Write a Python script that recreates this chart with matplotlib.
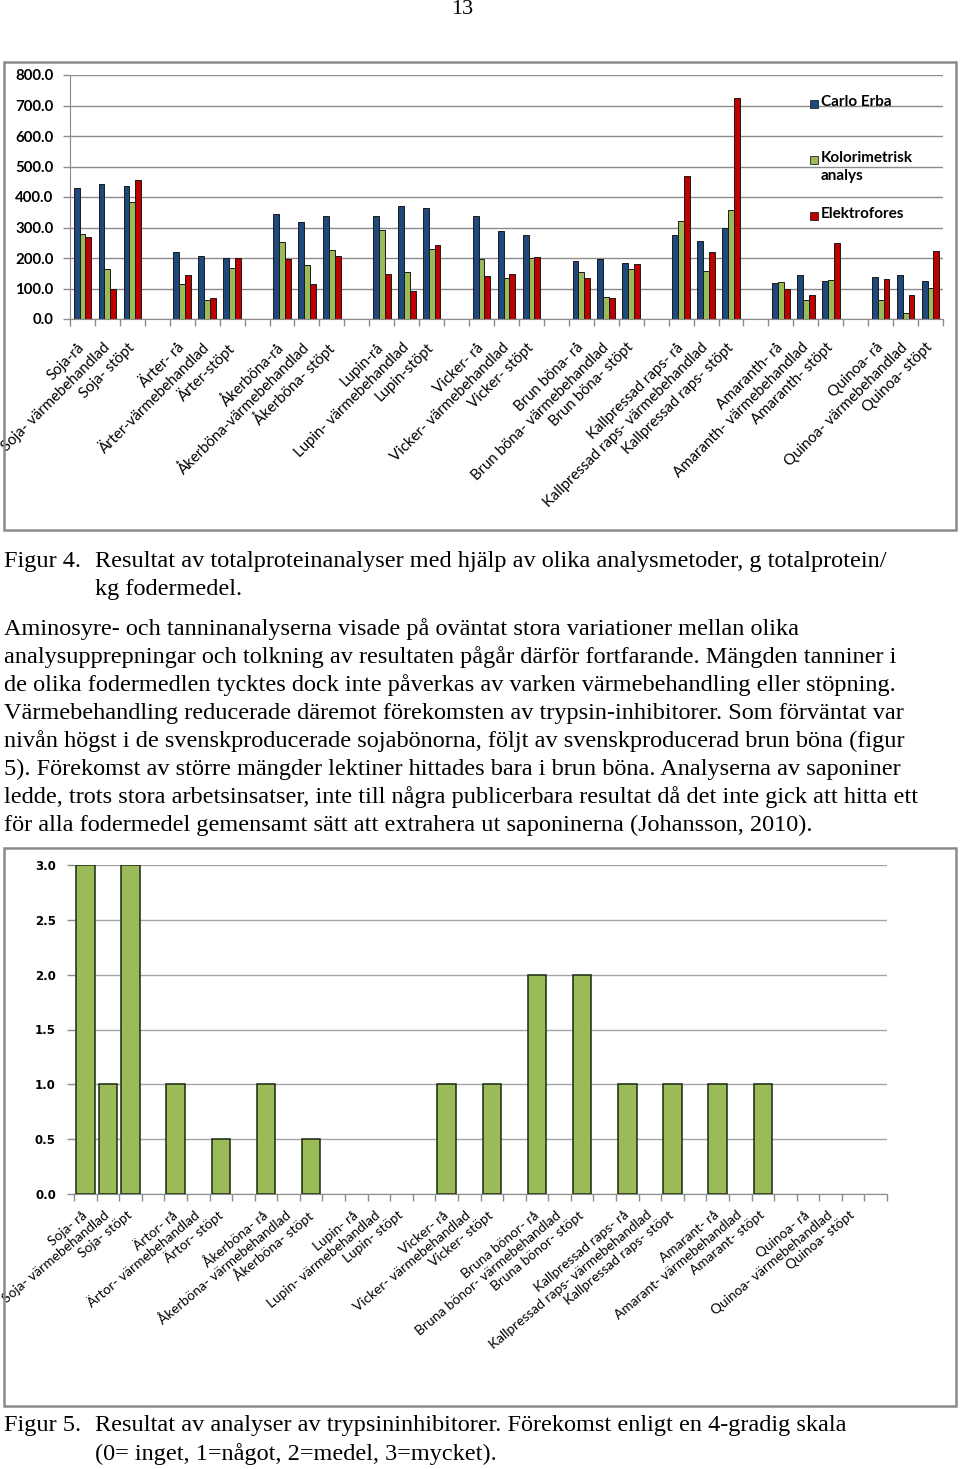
import numpy as np
import matplotlib.pyplot as plt
from matplotlib.patches import Rectangle

# page size in pixels
W, H = 960, 1469

# ---- Figur 4: total protein, g totalprotein / kg fodermedel ----
labels_fig4 = [
    "Soja-rå", "Soja- värmebehandlad", "Soja- stöpt",
    "Ärter- rå", "Ärter-värmebehandlad", "Ärter-stöpt",
    "Åkerböna-rå", "Åkerböna-värmebehandlad", "Åkerböna- stöpt",
    "Lupin-rå", "Lupin- värmebehandlad", "Lupin-stöpt",
    "Vicker- rå", "Vicker- värmebehandlad", "Vicker- stöpt",
    "Brun böna- rå", "Brun böna- värmebehandlad", "Brun böna- stöpt",
    "Kallpressad raps- rå", "Kallpressad raps- värmebehandlad", "Kallpressad raps- stöpt",
    "Amaranth- rå", "Amaranth- värmebehandlad", "Amaranth- stöpt",
    "Quinoa- rå", "Quinoa- värmebehandlad", "Quinoa- stöpt",
]
carlo_erba = [430, 444, 437, 221, 208, 201, 344, 319, 339, 339, 370, 364,
              339, 289, 275, 189, 196, 183, 275, 256, 299, 119, 144, 126,
              138, 144, 126]
kolorimetrisk = [278, 163, 383, 116, 62, 166, 251, 176, 227, 291, 154, 231,
                 196, 133, 201, 154, 71, 163, 322, 157, 357, 122, 62, 128,
                 62, 20, 103]
elektrofores = [268, 99, 456, 144, 70, 199, 196, 116, 208, 148, 93, 244,
                141, 148, 204, 133, 68, 179, 470, 221, 725, 97, 78, 249,
                132, 78, 224]
series_fig4 = ["Carlo Erba", "Kolorimetrisk\nanalys", "Elektrofores"]

# ---- Figur 5: trypsin inhibitors, 0-3 scale ----
labels_fig5 = [
    "Soja- rå", "Soja- värmebehandlad", "Soja- stöpt",
    "Ärtor- rå", "Ärtor- värmebehandlad", "Ärtor- stöpt",
    "Åkerböna- rå", "Åkerböna- värmebehandlad", "Åkerböna- stöpt",
    "Lupin- rå", "Lupin- värmebehandlad", "Lupin- stöpt",
    "Vicker- rå", "Vicker- värmebehandlad", "Vicker- stöpt",
    "Bruna bönor- rå", "Bruna bönor- värmebehandlad", "Bruna bönor- stöpt",
    "Kallpressad raps- rå", "Kallpressad raps- värmebehandlad", "Kallpressad raps- stöpt",
    "Amarant- rå", "Amarant- värmebehandlad", "Amarant- stöpt",
    "Quinoa- rå", "Quinoa- värmebehandlad", "Quinoa- stöpt",
]
trypsin = [3, 1, 3, 1, 0, 0.5, 1, 0, 0.5, 0, 0, 0, 1, 0, 1,
           2, 0, 2, 1, 0, 1, 1, 0, 1, 0, 0, 0]

text_fig4 = ["Resultat av totalproteinanalyser med hjälp av olika analysmetoder, g totalprotein/",
             "kg fodermedel."]
paragraph = [
    "Aminosyre- och tanninanalyserna visade på oväntat stora variationer mellan olika",
    "analysupprepningar och tolkning av resultaten pågår därför fortfarande. Mängden tanniner i",
    "de olika fodermedlen tycktes dock inte påverkas av varken värmebehandling eller stöpning.",
    "Värmebehandling reducerade däremot förekomsten av trypsin-inhibitorer. Som förväntat var",
    "nivån högst i de svenskproducerade sojabönorna, följt av svenskproducerad brun böna (figur",
    "5). Förekomst av större mängder lektiner hittades bara i brun böna. Analyserna av saponiner",
    "ledde, trots stora arbetsinsatser, inte till några publicerbara resultat då det inte gick att hitta ett",
    "för alla fodermedel gemensamt sätt att extrahera ut saponinerna (Johansson, 2010).",
]
text_fig5 = ["Resultat av analyser av trypsininhibitorer. Förekomst enligt en 4-gradig skala",
             "(0= inget, 1=något, 2=medel, 3=mycket)."]

BLUE = "#1F497D"
GREEN = "#9BBB59"
RED = "#C00000"
GRID = "#8c8c8c"
SANS = ["Lato", "DejaVu Sans"]
SERIF = ["Liberation Serif", "DejaVu Serif"]


def box(left, top, right, bottom):
    return [left / W, 1 - bottom / H, (right - left) / W, (bottom - top) / H]


def ptext(fig, x, y, s, **kw):
    fig.text(x / W, 1 - y / H, s, **kw)


def category_axis(ax, labels, n_cats, pad, size, rot):
    # 3 products per group, one empty slot between groups
    pos = [g * 4 + j for g in range(len(labels) // 3) for j in range(3)]
    ax.set_xlim(-0.5, n_cats - 0.5)
    ax.set_xticks(pos)
    ax.set_xticklabels(labels, rotation=rot, ha="right", va="center",
                       rotation_mode="anchor", family=SANS, fontsize=size)
    ax.tick_params(axis="x", which="major", length=0, pad=pad)
    ax.set_xticks(np.arange(-0.5, n_cats, 1), minor=True)
    ax.tick_params(axis="x", which="minor", length=5, color=GRID, width=1)
    for s in ["top", "right"]:
        ax.spines[s].set_visible(False)
    ax.spines["bottom"].set_color(GRID)
    ax.set_axisbelow(True)
    ax.yaxis.grid(True, color=GRID, linewidth=1)
    ax.tick_params(axis="y", length=5, color=GRID, width=1)
    return np.array(pos)


fig = plt.figure(figsize=(W / 100, H / 100), dpi=100)

ptext(fig, 462, 9, "13", family=SERIF, fontsize=16, ha="center", va="center")

# frames around the two charts
for (l, t, r, b) in [(4, 62, 956, 530), (4, 848, 956, 1406)]:
    fig.patches.append(Rectangle((l / W, 1 - b / H), (r - l) / W, (b - t) / H,
                                 transform=fig.transFigure, fill=False,
                                 edgecolor="#8a8a8a", linewidth=1.8))

# chart 1
ax1 = fig.add_axes(box(70, 75, 943, 319))
x1 = category_axis(ax1, labels_fig4, 35, pad=19, size=10.8, rot=45)
w = 0.235
for off, vals, col in [(-w, carlo_erba, BLUE), (0, kolorimetrisk, GREEN), (w, elektrofores, RED)]:
    ax1.bar(x1 + off, vals, w, color=col, edgecolor="#1a1a1a", linewidth=0.7)
ax1.set_ylim(0, 800)
ax1.set_yticks(np.arange(0, 801, 100))
ax1.set_yticklabels([f"{v:.1f}" for v in np.arange(0, 801, 100)],
                    family=SANS, fontsize=10.8, fontweight="bold")
ax1.tick_params(axis="y", pad=7)
ax1.spines["left"].set_color(GRID)

# legend drawn by hand, Excel style
for lab, col, y in zip(series_fig4, [BLUE, GREEN, RED], [104, 160, 216]):
    fig.patches.append(Rectangle((810 / W, 1 - (y + 4) / H), 8 / W, 8 / H,
                                 transform=fig.transFigure, facecolor=col,
                                 edgecolor="#222222", linewidth=0.6))
    ptext(fig, 821, y - 9, lab, family=SANS, fontsize=11, fontweight="bold",
          va="top", ha="left", linespacing=1.4)

# chart 2
ax2 = fig.add_axes(box(74, 865, 887, 1194))
x2 = category_axis(ax2, labels_fig5, 36, pad=14, size=9.9, rot=40)
t = np.array(trypsin, dtype=float)
has = t > 0  # no outline for empty categories
ax2.bar(x2[has], t[has], 0.82, color=GREEN, edgecolor="#1a2a10", linewidth=1.1)
ax2.set_ylim(0, 3)
ax2.set_yticks(np.arange(0, 3.01, 0.5))
ax2.set_yticklabels([f"{v:.1f}" for v in np.arange(0, 3.01, 0.5)],
                    family=["DejaVu Sans"], fontsize=8.5, fontweight="bold")
ax2.tick_params(axis="y", pad=8)
ax2.spines["left"].set_visible(False)
ax2.yaxis.grid(True, color="#a6a6a6", linewidth=1)

# page text
tk = dict(family=SERIF, fontsize=17.5, va="center", ha="left")
ptext(fig, 4, 561, "Figur 4.", **tk)
ptext(fig, 95, 561, text_fig4[0], **tk)
ptext(fig, 95, 589, text_fig4[1], **tk)
for i, line in enumerate(paragraph):
    ptext(fig, 4, 629 + 28 * i, line, **tk)
ptext(fig, 4, 1426, "Figur 5.", **tk)
ptext(fig, 95, 1426, text_fig5[0], **tk)
ptext(fig, 95, 1454, text_fig5[1], **tk)

fig.savefig("out.png", dpi=100)
